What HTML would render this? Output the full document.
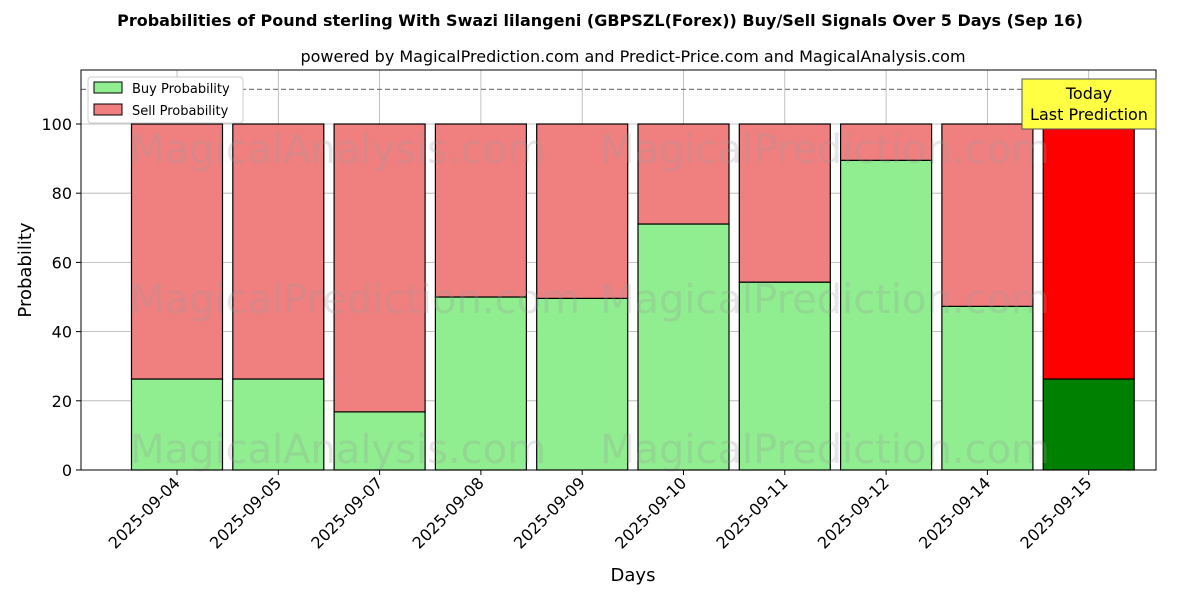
<!DOCTYPE html>
<html><head><meta charset="utf-8"><style>
body{margin:0;background:#fff;font-family:"Liberation Sans","DejaVu Sans",sans-serif;}
svg text{font-family:"DejaVu Sans","Liberation Sans",sans-serif;}
</style></head><body>
<svg id="c" width="1200" height="600" xmlns="http://www.w3.org/2000/svg">
<text x="600" y="26" text-anchor="middle" font-size="16" font-weight="bold">Probabilities of Pound sterling With Swazi lilangeni (GBPSZL(Forex)) Buy/Sell Signals Over 5 Days (Sep 16)</text>
<text x="633" y="62" text-anchor="middle" font-size="16">powered by MagicalPrediction.com and Predict-Price.com and MagicalAnalysis.com</text>
<g id="grid"></g><g id="bars"></g><g id="wm"></g><g id="axes"></g>
</svg>
<script>
const categories=["2025-09-04","2025-09-05","2025-09-07","2025-09-08","2025-09-09","2025-09-10","2025-09-11","2025-09-12","2025-09-14","2025-09-15"];
const buyValues=[26.3,26.3,16.8,50.0,49.6,71.1,54.3,89.5,47.3,26.3];
const sellValues=buyValues.map(v=>100-v);
const yTicks=[0,20,40,60,80,100];
const NS="http://www.w3.org/2000/svg";
const L=81,R=1156,T=70,B=470;
const y=v=>B-v*3.46;
const x=i=>177+i*101.3;
const bw=91;
function mk(tag,attrs,parent,txt){const e=document.createElementNS(NS,tag);for(const k in attrs)e.setAttribute(k,attrs[k]);if(txt!==undefined)e.textContent=txt;document.getElementById(parent).appendChild(e);return e;}
yTicks.forEach(t=>{
  const g=mk('line',{x1:L,x2:R,y1:y(t),y2:y(t),stroke:'#b0b0b0','stroke-width':0.8},'grid');
  
  
  mk('line',{x1:L-5,x2:L,y1:y(t),y2:y(t),stroke:'#000'},'axes');
  const tl=mk('text',{x:L-9,y:y(t)+6,'text-anchor':'end','font-size':16},'axes',t);
  
  
});
categories.forEach((c,i)=>{
  const gl=mk('line',{x1:x(i),x2:x(i),y1:T,y2:B,stroke:'#b0b0b0','stroke-width':0.8},'grid');
  
  
  const last=i===categories.length-1;
  const b=mk('rect',{x:x(i)-bw/2,y:y(buyValues[i]),width:bw,height:y(0)-y(buyValues[i]),fill:last?'#008000':'#90ee90',stroke:'#000','stroke-width':1.2},'bars');
  
  
  const s=mk('rect',{x:x(i)-bw/2,y:y(100),width:bw,height:y(buyValues[i])-y(100),fill:last?'#ff0000':'#f08080',stroke:'#000','stroke-width':1.2},'bars');
  
  
  mk('line',{x1:x(i),x2:x(i),y1:B,y2:B+5,stroke:'#000'},'axes');
  const tx=mk('text',{x:x(i)+4,y:B+14,'text-anchor':'end','font-size':16,transform:`rotate(-45 ${x(i)+4} ${B+14})`},'axes',c);
  
  
});
[[130,150],[130,300],[130,450],[600,150],[600,300],[600,450]].forEach((p,k)=>{
  const w=mk('text',{x:p[0],y:p[1]+13,'font-size':40,fill:'rgba(150,150,150,0.25)'},'wm',k%3===1||k===3||k===5?'MagicalPrediction.com':'MagicalAnalysis.com');
  
  
});
const d=mk('line',{x1:L,x2:R,y1:y(110),y2:y(110),stroke:'#808080','stroke-dasharray':'5,3','stroke-width':1.2},'axes');


const fr=mk('rect',{x:L,y:T,width:R-L,height:B-T,fill:'none',stroke:'#000','stroke-width':1},'axes');


const yt=mk('text',{x:31,y:270,'text-anchor':'middle','font-size':18,transform:'rotate(-90 31 270)'},'axes','Probability');


const xt=mk('text',{x:633,y:581,'text-anchor':'middle','font-size':18},'axes','Days');


// legend
const lg=mk('rect',{x:88,y:77,width:155,height:46,fill:'#fff',stroke:'#ccc',rx:3},'axes');


[['#90ee90','Buy Probability',82],['#f08080','Sell Probability',104]].forEach(e=>{
  const r=mk('rect',{x:94,y:e[2],width:28,height:11,fill:e[0],stroke:'#000'},'axes');
  
  
  const t=mk('text',{x:132,y:e[2]+11,'font-size':13},'axes',e[1]);
  
  
});
// annotation
const ab=mk('rect',{x:1022,y:79,width:134,height:50,fill:'#ffff44',stroke:'#555'},'axes');


const a1=mk('text',{x:1089,y:99,'text-anchor':'middle','font-size':16},'axes','Today');


const a2=mk('text',{x:1089,y:120,'text-anchor':'middle','font-size':16},'axes','Last Prediction');


</script>
</body></html>
